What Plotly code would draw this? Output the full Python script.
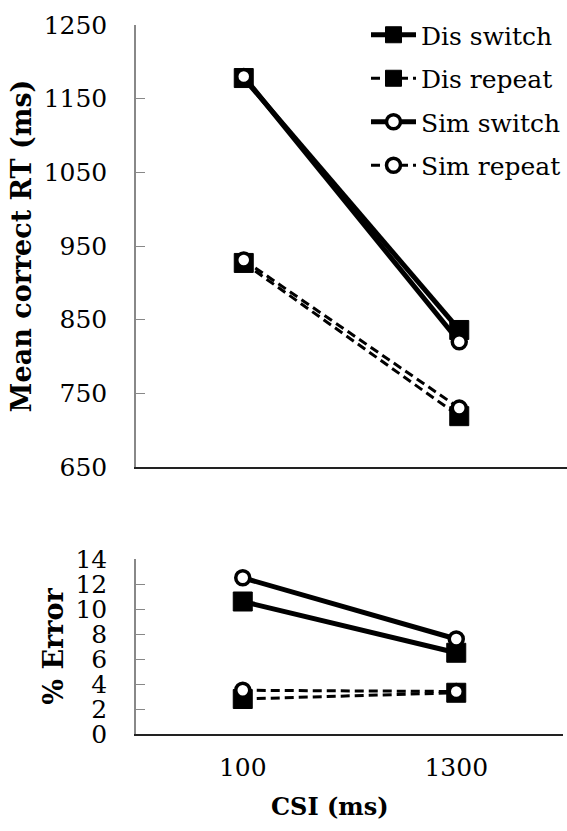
import plotly.graph_objects as go

categories = ["100", "1300"]
series_names = ["Dis switch", "Dis repeat", "Sim switch", "Sim repeat"]
rt_values = {
    "Dis switch": [1178, 836],
    "Dis repeat": [927, 719],
    "Sim switch": [1180, 820],
    "Sim repeat": [931, 730],
}
err_values = {
    "Dis switch": [10.6, 6.5],
    "Dis repeat": [2.8, 3.3],
    "Sim switch": [12.5, 7.6],
    "Sim repeat": [3.5, 3.4],
}
rt_ticks = [650, 750, 850, 950, 1050, 1150, 1250]
err_ticks = [0, 2, 4, 6, 8, 10, 12, 14]
x_title = "CSI (ms)"

FONT = "DejaVu Serif"

styles = {
    "Dis switch": dict(dash="solid", width=5, symbol="square", fill="black", size=19, lw=1),
    "Dis repeat": dict(dash="9px,5px", width=3, symbol="square", fill="black", size=19, lw=1),
    "Sim switch": dict(dash="solid", width=5, symbol="circle", fill="white", size=14, lw=3.5),
    "Sim repeat": dict(dash="9px,5px", width=3, symbol="circle", fill="white", size=14, lw=3.5),
}

xpos = [0, 1]
fig = go.Figure()
for name in series_names:
    s = styles[name]
    common = dict(
        mode="lines+markers",
        line=dict(color="black", width=s["width"], dash=s["dash"]),
        marker=dict(symbol=s["symbol"], size=s["size"], color=s["fill"],
                    line=dict(color="black", width=s["lw"])),
        name=name,
        legendgroup=name,
    )
    fig.add_trace(go.Scatter(x=xpos, y=rt_values[name], xaxis="x", yaxis="y",
                             showlegend=True, **common))
    fig.add_trace(go.Scatter(x=xpos, y=err_values[name], xaxis="x2", yaxis="y2",
                             showlegend=False, **common))

H = 831
t, b = 25, 97
ph = H - t - b
pw = 567 - 136
top_bottom = (734 - 467) / ph
bot_top = (734 - 559) / ph

fig.update_layout(
    width=567, height=831,
    margin=dict(l=136, r=0, t=t, b=b),
    paper_bgcolor="white", plot_bgcolor="white",
    font=dict(family=FONT, color="black", size=25),
    xaxis=dict(domain=[0, 1], range=[-0.5, 1.5], anchor="y",
               showticklabels=False, ticks="", showgrid=False, zeroline=False,
               showline=True, linecolor="#222", linewidth=1.5),
    yaxis=dict(domain=[top_bottom, 1], range=[650, 1250], anchor="x",
               tickvals=rt_ticks, ticktext=[str(v) for v in rt_ticks],
               tickfont=dict(family=FONT, size=25),
               ticks="inside", ticklen=9, tickcolor="#888", tickwidth=1,
               showgrid=False, zeroline=False, showline=True, linecolor="#888", linewidth=1.5,
               ticklabelstandoff=22,
               title=dict(text="<b>Mean correct RT (ms)</b>", font=dict(family=FONT, size=27), standoff=4)),
    xaxis2=dict(domain=[0, (563 - 136) / pw], range=[-0.5, 1.5], anchor="y2",
                tickvals=xpos, ticktext=categories, ticks="",
                tickfont=dict(family=FONT, size=25),
                ticklabelstandoff=10,
                showgrid=False, zeroline=False, showline=True, linecolor="#222", linewidth=1.5),
    yaxis2=dict(domain=[0, bot_top], range=[0, 14], anchor="x2",
                tickvals=err_ticks, ticktext=[str(v) for v in err_ticks],
                tickfont=dict(family=FONT, size=25),
                ticks="inside", ticklen=9, tickcolor="#888", tickwidth=1,
                showgrid=False, zeroline=False, showline=True, linecolor="#888", linewidth=1.5,
                ticklabelstandoff=22,
                title=dict(text="<b>% Error</b>", font=dict(family=FONT, size=27), standoff=4)),
    legend=dict(x=(366 - 136) / pw, xanchor="left", y=1 + 13 / ph, yanchor="top",
                font=dict(family=FONT, size=25), bgcolor="rgba(0,0,0,0)", itemwidth=45,
                traceorder="grouped", tracegroupgap=8),
    showlegend=True,
    annotations=[dict(text="<b>" + x_title + "</b>", xref="paper", yref="paper",
                      x=(330 - 136) / pw, y=-(806 - 734) / ph, xanchor="center", yanchor="middle",
                      showarrow=False, font=dict(family=FONT, size=24, color="black"))],
)

fig.write_html("out.html")
